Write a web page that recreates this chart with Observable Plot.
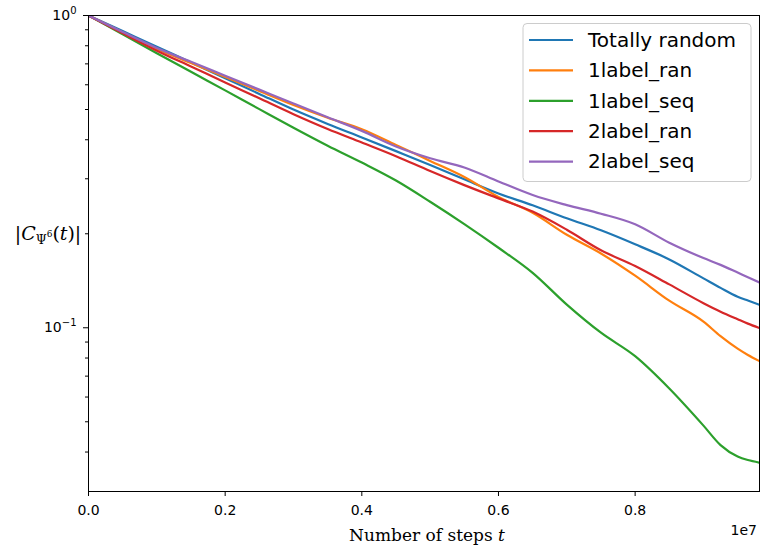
<!DOCTYPE html>
<html><head><meta charset="utf-8">
<script src="https://cdn.jsdelivr.net/npm/d3@7"></script>
<script src="https://cdn.jsdelivr.net/npm/@observablehq/plot@0.6"></script>
<style>html,body{margin:0;padding:0;background:#fff;}#chart{width:760px;height:549px;}</style>
</head><body><div id="chart"></div>
<script>
// ---- data ----
const steps = [0, 500000, 1000000, 1500000, 2000000, 2500000, 3000000, 3500000, 4000000, 4500000, 5000000, 5500000, 6000000, 6500000, 7000000, 7500000, 8000000, 8500000, 9000000, 9250000, 9500000, 9650000, 9820000];
const totallyRandom = [1, 0.8914, 0.7947, 0.7074, 0.6301, 0.5609, 0.4996, 0.4494, 0.4068, 0.3678, 0.3322, 0.2988, 0.2693, 0.2467, 0.2242, 0.2052, 0.1851, 0.1655, 0.1439, 0.1342, 0.1257, 0.1222, 0.1185];
const label1Ran = [1, 0.8817, 0.7808, 0.7043, 0.6353, 0.5730, 0.5165, 0.4703, 0.4325, 0.3852, 0.3422, 0.3039, 0.2623, 0.2334, 0.1985, 0.1729, 0.1468, 0.1221, 0.1046, 0.0940, 0.0857, 0.0818, 0.0782];
const label1Seq = [1, 0.8700, 0.7575, 0.6601, 0.5756, 0.5015, 0.4373, 0.3830, 0.3381, 0.2962, 0.2533, 0.2148, 0.1804, 0.1499, 0.1186, 0.0964, 0.0811, 0.0639, 0.0486, 0.0421, 0.0387, 0.0377, 0.0370];
const label2Ran = [1, 0.8771, 0.7716, 0.6863, 0.6105, 0.5430, 0.4830, 0.4331, 0.3921, 0.3545, 0.3176, 0.2863, 0.2596, 0.2355, 0.2060, 0.1771, 0.1577, 0.1377, 0.1199, 0.1126, 0.1065, 0.1031, 0.0998];
const label2Seq = [1, 0.8849, 0.7866, 0.7105, 0.6413, 0.5789, 0.5226, 0.4721, 0.4271, 0.3807, 0.3490, 0.3261, 0.2942, 0.2661, 0.2471, 0.2319, 0.2145, 0.1872, 0.1672, 0.1590, 0.1502, 0.1451, 0.1397];

const seriesNames = ["Totally random", "1label_ran", "1label_seq", "2label_ran", "2label_seq"];
const seriesColors = ["#1f77b4", "#ff7f0e", "#2ca02c", "#d62728", "#9467bd"];
const seriesValues = [totallyRandom, label1Ran, label1Seq, label2Ran, label2Seq];

const xTicks = [0, 2000000, 4000000, 6000000, 8000000];
const xTickLabels = ["0.0", "0.2", "0.4", "0.6", "0.8"];
const xOffsetLabel = "1e7";
const xDomain = [0, 9820000];
const yDomain = [0.0299, 1];
const yMajorTicks = [1, 0.1];
const yMajorBase = "10";
const yMajorExp = ["0", "\u22121"];
const yMinorTicks = [0.9, 0.8, 0.7, 0.6, 0.5, 0.4, 0.3, 0.2, 0.09, 0.08, 0.07, 0.06, 0.05, 0.04];
const xLabelText = "Number of steps ";
const xLabelVar = "t";

// ---- table ----
const rows = [];
seriesNames.forEach((name, i) => steps.forEach((t, j) => rows.push({series: name, t, v: seriesValues[i][j]})));

const plot = Plot.plot({
  width: 760, height: 549,
  marginLeft: 88, marginRight: 1, marginTop: 15, marginBottom: 58,
  style: {background: "white", color: "black", fontFamily: "DejaVu Sans", fontSize: "14px"},
  x: {domain: xDomain},
  y: {type: "log", domain: yDomain},
  color: {domain: seriesNames, range: seriesColors},
  marks: [
    Plot.line(rows, {x: "t", y: "v", stroke: "series", z: "series", strokeWidth: 2.2, curve: "monotone-x", clip: true}),
    Plot.frame({stroke: "black", strokeWidth: 1}),
    Plot.axisX({ticks: xTicks, tickFormat: d => xTickLabels[xTicks.indexOf(d)], tickSize: 5, tickPadding: 9, label: null}),
    Plot.axisY({ticks: yMinorTicks, tickSize: 3, tickFormat: () => "", label: null}),
    Plot.axisY({ticks: yMajorTicks, tickSize: 5, tickPadding: 7, tickFormat: () => yMajorBase, label: null})
  ]
});
document.getElementById("chart").appendChild(plot);

const svg = d3.select(plot);
svg.selectAll('g[aria-label$="tick label"]').attr("font-size", 14).attr("font-family", "DejaVu Sans");
svg.selectAll('g[aria-label$="tick label"] text').attr("font-size", 14);
// superscripts on major y tick labels
let k = 0;
svg.selectAll('g[aria-label="y-axis tick label"] text').each(function() {
  const t = d3.select(this);
  if (t.text() === yMajorBase) {
    t.append("tspan").attr("dy", -6).attr("font-size", 10).text(yMajorExp[k]);
    k++;
  }
});

// y label |C_{Psi^6}(t)|
const yl = svg.append("text").attr("x", 48).attr("y", 233).attr("dy", "0.35em")
  .attr("text-anchor", "middle").attr("font-family", "DejaVu Serif").attr("font-size", 19).attr("fill", "black");
yl.append("tspan").text("|");
yl.append("tspan").attr("font-style", "italic").text("C");
yl.append("tspan").attr("font-size", 12.5).attr("dy", 4).text("\u03A8");
yl.append("tspan").attr("font-size", 9).attr("dy", -7).text("6");
yl.append("tspan").attr("dy", 3).text("(");
yl.append("tspan").attr("font-style", "italic").text("t");
yl.append("tspan").text(")|");

// x label
const xl = svg.append("text").attr("x", 427).attr("y", 541).attr("text-anchor", "middle")
  .attr("font-family", "DejaVu Serif").attr("font-size", 17).attr("fill", "black");
xl.append("tspan").text(xLabelText);
xl.append("tspan").attr("font-style", "italic").text(xLabelVar);

// offset label
svg.append("text").attr("x", 757).attr("y", 535).attr("text-anchor", "end")
  .attr("font-family", "DejaVu Sans").attr("font-size", 14).attr("fill", "black").text(xOffsetLabel);

// legend
const lg = svg.append("g");
lg.append("rect").attr("x", 523).attr("y", 23.5).attr("width", 228).attr("height", 158).attr("rx", 4)
  .attr("fill", "white").attr("fill-opacity", 0.8).attr("stroke", "#cccccc");
seriesNames.forEach((name, i) => {
  const y = 40 + i * 30.4;
  lg.append("line").attr("x1", 529).attr("x2", 573).attr("y1", y).attr("y2", y)
    .attr("stroke", seriesColors[i]).attr("stroke-width", 2.2);
  lg.append("text").attr("x", 588).attr("y", y + 6.8).attr("text-anchor", "start").attr("font-family", "DejaVu Sans")
    .attr("font-size", 20).attr("fill", "black").text(name);
});
</script>
</body></html>
